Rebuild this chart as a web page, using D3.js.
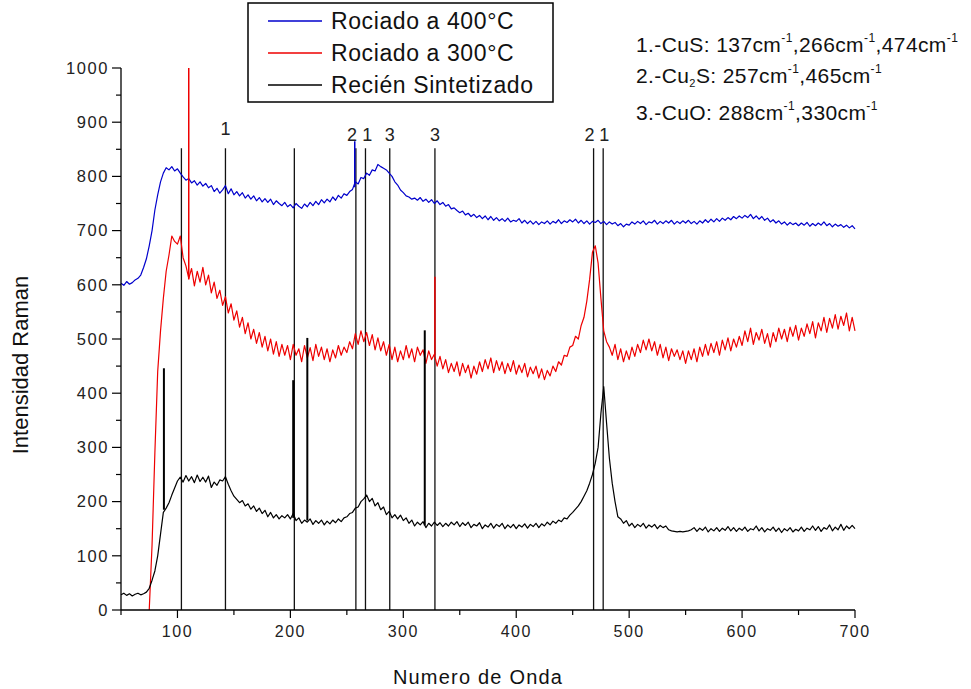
<!DOCTYPE html>
<html><head><meta charset="utf-8">
<script src="https://cdn.jsdelivr.net/npm/d3@7"></script>
<style>
body{margin:0;background:#fff;}
text{font-family:"Liberation Sans",Arial,sans-serif;}
</style></head>
<body><svg id="c" width="971" height="689"></svg>
<script>
// ---- data (every 2.5 cm-1 from 50 to 700) ----
const wavenumbers = d3.range(50, 700.1, 2.5);
const blue400 = [
603,599,606,601,604,609,612,618,632,648,672,700,738,766,790,806,816,812,818,810,
814,806,799,793,796,788,792,784,790,782,787,779,783,772,778,769,775,783,768,777,
766,772,764,770,760,766,758,764,755,761,753,759,752,758,748,755,750,746,752,744,
748,742,750,745,741,749,744,752,746,754,748,757,751,758,753,762,756,765,760,768,
765,772,776,790,786,798,796,806,802,812,810,822,818,815,812,806,800,790,784,775,
770,764,762,758,760,756,761,754,758,752,757,750,755,748,752,745,748,740,742,737,
733,736,729,732,726,730,724,728,722,727,720,726,719,724,718,722,717,723,716,719,
717,722,714,719,713,718,712,717,711,716,713,718,712,717,714,720,713,718,715,720,
716,721,714,719,713,718,712,717,715,719,713,717,711,716,712,715,709,713,707,712,
710,716,712,717,713,718,711,716,714,719,712,717,713,718,714,719,712,717,713,718,
714,719,713,717,712,718,714,720,715,721,716,722,717,723,719,724,720,726,722,727,
723,728,724,730,722,727,721,726,719,723,716,720,714,718,712,716,710,715,711,714,
709,714,710,715,708,713,709,714,710,716,709,713,707,712,708,711,706,710,705,709,
703];
const red300 = [
null,null,null,null,null,null,null,null,null,null,0,120,290,440,515,575,625,655,690,680,
675,690,650,635,612,630,598,625,605,632,600,618,585,605,575,590,562,578,548,565,
535,552,522,540,510,530,500,518,492,512,485,505,478,500,472,495,468,490,470,488,
462,490,470,482,458,488,465,484,460,490,468,485,462,482,458,480,465,488,470,485,
475,495,482,510,490,515,495,512,488,508,480,502,478,495,470,490,462,485,458,478,
462,488,465,482,458,485,470,480,455,478,462,472,450,468,445,462,438,455,440,458,
432,455,438,452,428,450,435,458,440,462,445,465,438,460,442,458,436,455,440,460,
435,452,438,455,430,448,436,450,428,445,425,442,432,450,440,458,452,470,468,485,
488,505,500,525,540,570,610,660,672,640,575,515,495,485,470,490,462,482,458,478,
462,485,468,490,475,498,480,500,478,495,470,490,465,485,460,482,468,480,462,478,
455,478,462,482,458,485,468,490,470,492,475,495,470,498,480,502,478,500,485,505,
488,515,495,520,490,512,498,518,492,510,485,512,495,520,500,518,495,522,505,525,
498,520,505,528,510,532,502,530,515,540,512,538,520,545,518,542,525,548,515,540,
515];
const blackFresh = [
28,31,27,30,26,29,31,28,30,33,40,55,72,100,140,180,188,198,212,225,
238,245,236,248,238,246,235,249,237,245,236,247,226,236,230,240,238,246,232,220,
210,204,198,202,192,196,186,192,182,188,178,184,172,180,170,176,168,174,170,176,
168,178,165,170,160,166,162,168,158,165,160,166,157,164,159,166,161,168,163,170,
172,178,180,188,190,200,205,212,200,206,192,198,185,190,176,182,170,176,168,175,
165,170,160,166,155,162,157,163,152,160,155,162,156,161,154,160,155,162,157,163,
154,161,156,162,152,158,155,161,150,157,153,160,151,158,154,160,150,157,152,158,
150,157,153,159,151,158,154,160,152,159,155,162,157,164,160,166,163,170,168,175,
180,186,192,200,210,220,234,250,271,300,363,412,345,280,234,200,172,168,160,165,
155,160,152,158,154,160,151,157,153,158,150,156,152,155,148,146,145,144,145,144,
145,146,148,152,145,151,147,153,144,150,146,152,145,151,147,154,146,152,145,151,
147,153,145,150,148,155,146,152,144,150,147,153,145,151,143,150,146,152,144,149,
146,153,145,151,148,155,147,154,145,152,149,157,146,153,148,158,147,155,150,156,
150];
const seriesNames = ["Rociado a 400°C","Rociado a 300°C","Recién Sintetizado"];
const seriesColors = ["#0000cc","#ee0000","#000000"];
// narrow spikes: wavenumber, base, top, series index
const spikeX    = [110, 328, 257, 88, 202.5, 215, 319];
const spikeBase = [610, 470, 780, 185, 170, 165, 156];
const spikeTop  = [1000, 615, 865, 446, 424, 502, 516];
const spikeSer  = [1, 1, 0, 2, 2, 2, 2];
// reference lines
const refX = [103.5, 142.5, 203.5, 258, 266.5, 288, 328, 468.5, 477];
const refTop = 852;
const refLabels = ["1","2","1","3","3","2","1"];
const refLabelX = [142.5, 254.5, 268, 288, 328, 465, 478];
const xTicks = [100,200,300,400,500,600,700];
const yTicks = [0,100,200,300,400,500,600,700,800,900,1000];

// ---- chart ----
const svg = d3.select("#c");
const x = d3.scaleLinear().domain([50,700]).range([121,855]);
const y = d3.scaleLinear().domain([0,1000]).range([610,68]);

svg.append("g").selectAll("line").data(refX).join("line")
  .attr("x1",d=>x(d)).attr("x2",d=>x(d)).attr("y1",y(refTop)).attr("y2",y(0))
  .attr("stroke","#111").attr("stroke-width",1.3);
svg.append("g").selectAll("text").data(refLabels).join("text")
  .attr("x",(d,i)=>x(refLabelX[i])).attr("y",(d,i)=> i===0?135:141)
  .attr("text-anchor","middle").attr("font-size",18).attr("fill","#222").text(d=>d);

const series = [blue400, red300, blackFresh];
const line = d3.line().defined(d=>d[1]!==null && d[1]!==undefined).x(d=>x(d[0])).y(d=>y(d[1]));
series.forEach((s,i)=>{
  svg.append("path").datum(wavenumbers.map((w,j)=>[w,s[j]]))
    .attr("d",line).attr("fill","none").attr("stroke",seriesColors[i]).attr("stroke-width",1.2)
    .attr("stroke-linejoin","round");
});
svg.append("g").selectAll("line").data(spikeX).join("line")
  .attr("x1",d=>x(d)).attr("x2",d=>x(d))
  .attr("y1",(d,i)=>y(spikeBase[i])).attr("y2",(d,i)=>y(spikeTop[i]))
  .attr("stroke",(d,i)=>seriesColors[spikeSer[i]]).attr("stroke-width",(d,i)=>spikeSer[i]===2?2:1.5);

// axes
const xAxis = svg.append("g").attr("transform","translate(0,610)");
xAxis.append("line").attr("x1",x(50)).attr("x2",x(700)).attr("stroke","#000").attr("stroke-width",1.3);
xAxis.selectAll(".mj").data(d3.range(50,701,50)).join("line")
  .attr("x1",d=>x(d)).attr("x2",d=>x(d)).attr("y1",0).attr("y2",d=>d%100===0?8:5)
  .attr("stroke","#000").attr("stroke-width",1.2);
xAxis.selectAll("text").data(xTicks).join("text")
  .attr("x",d=>x(d)).attr("y",27).attr("text-anchor","middle").attr("font-size",16)
  .attr("letter-spacing",1.5).attr("fill","#222").text(d=>d);

const yAxis = svg.append("g").attr("transform","translate(121,0)");
yAxis.append("line").attr("y1",y(0)).attr("y2",y(1000)).attr("stroke","#000").attr("stroke-width",1.3);
yAxis.selectAll(".mj").data(d3.range(0,1001,50)).join("line")
  .attr("y1",d=>y(d)).attr("y2",d=>y(d)).attr("x1",0).attr("x2",d=>d%100===0?-9:-5)
  .attr("stroke","#000").attr("stroke-width",1.2);
yAxis.selectAll("text").data(yTicks).join("text")
  .attr("x",-12).attr("y",d=>y(d)).attr("dy","0.35em").attr("text-anchor","end")
  .attr("font-size",16.5).attr("letter-spacing",1.6).attr("fill","#222").text(d=>d);

svg.append("text").attr("transform","translate(28,365) rotate(-90)").attr("text-anchor","middle")
  .attr("font-size",22).attr("fill","#111").text("Intensidad Raman");
svg.append("text").attr("x",478).attr("y",684).attr("text-anchor","middle")
  .attr("font-size",20).attr("letter-spacing",1.2).attr("fill","#111").text("Numero de Onda");

// legend
const lg = svg.append("g");
lg.append("rect").attr("x",248).attr("y",3).attr("width",305).attr("height",99)
  .attr("fill","#fff").attr("stroke","#000").attr("stroke-width",1.5);
seriesNames.forEach((n,i)=>{
  const yy = 21 + i*32;
  lg.append("line").attr("x1",268).attr("x2",322).attr("y1",yy).attr("y2",yy)
    .attr("stroke",seriesColors[i]).attr("stroke-width",1.3);
  lg.append("text").attr("x",331).attr("y",yy).attr("dy","0.36em").attr("font-size",23)
    .attr("letter-spacing",0.6).attr("fill","#111").text(n);
});

// annotation
const ann = [
  [["1.-CuS: 137cm"],["-1","sup"],[",266cm"],["-1","sup"],[",474cm"],["-1","sup"]],
  [["2.-Cu"],["2","sub"],["S: 257cm"],["-1","sup"],[",465cm"],["-1","sup"]],
  [["3.-CuO: 288cm"],["-1","sup"],[",330cm"],["-1","sup"]]
];
const annY = [52, 83, 120];
ann.forEach((parts,i)=>{
  const t = svg.append("text").attr("x",636).attr("y",annY[i]).attr("font-size",21)
    .attr("letter-spacing",0.4).attr("fill","#111");
  parts.forEach(p=>{
    const ts = t.append("tspan").text(p[0]);
    if(p[1]==="sup") ts.attr("font-size",12).attr("baseline-shift","80%");
    if(p[1]==="sub") ts.attr("font-size",11).attr("baseline-shift","-40%");
  });
});
</script></body></html>
